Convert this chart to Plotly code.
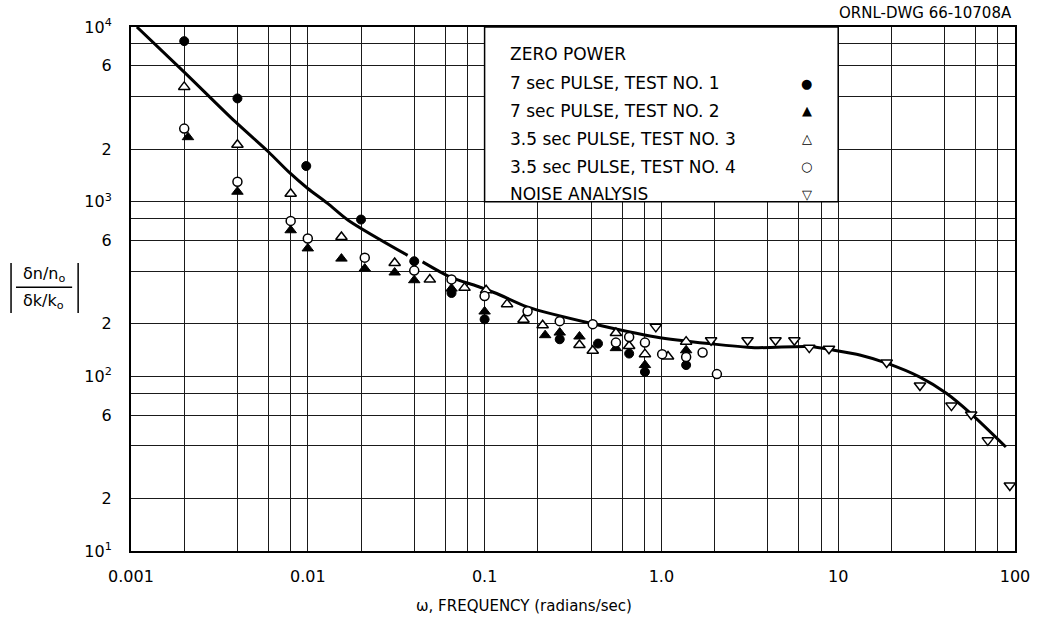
import plotly.graph_objects as go

# ---------------- data ----------------
curve_w = [0.00108, 0.002, 0.0039, 0.006, 0.0078, 0.01, 0.013, 0.017, 0.0367, None,
           0.0446, 0.064, 0.091, 0.117, 0.174, 0.409, 0.93, 1.85, 3.37, 6.9, 9.47,
           13.4, 18.8, 29, 40.9, 56.5, 88.8]
curve_g = [10000, 5520, 2860, 1925, 1480, 1190, 975, 781, 493, None,
           452, 370, 328, 298, 250, 200, 168, 154, 146, 148, 141,
           132, 119, 99, 80, 61, 39.4]

t1_w = [0.002, 0.004, 0.0098, 0.02, 0.04, 0.065, 0.1, 0.266, 0.438, 0.657, 0.807, 1.38]
t1_g = [8300, 3900, 1600, 790, 456, 300, 212, 163, 154, 135, 106, 116]

t2_w = [0.0021, 0.004, 0.008, 0.01, 0.0155, 0.021, 0.031, 0.04, 0.065, 0.1, 0.22,
        0.266, 0.344, 0.553, 0.807, 1.38]
t2_g = [2340, 1140, 686, 540, 472, 414, 393, 355, 318, 235, 172,
        178, 169, 145, 116, 141]

t3_w = [0.002, 0.004, 0.008, 0.0155, 0.031, 0.049, 0.077, 0.102, 0.134, 0.166, 0.213,
        0.344, 0.409, 0.553, 0.657, 0.807, 1.09, 1.38]
t3_g = [4540, 2120, 1110, 628, 446, 358, 321, 311, 259, 211, 196,
        151, 140, 177, 149, 134, 130, 158]

t4_w = [0.002, 0.004, 0.008, 0.01, 0.021, 0.04, 0.065, 0.1, 0.175, 0.266, 0.409,
        0.553, 0.657, 0.807, 1.01, 1.38, 1.71, 2.06]
t4_g = [2620, 1300, 776, 615, 478, 403, 359, 288, 236, 207, 199,
        156, 168, 156, 134, 129, 137, 103]

noise_w = [0.93, 1.91, 3.07, 4.42, 5.65, 6.86, 8.87, 18.8, 29, 43.7, 56.5, 70.2, 93.5]
noise_g = [192, 161, 161, 161, 161, 146, 144, 120, 88.7, 68, 60.5, 43, 23.7]

legend_title = "ZERO POWER"
series_names = ["7 sec PULSE, TEST NO. 1", "7 sec PULSE, TEST NO. 2",
                "3.5 sec PULSE, TEST NO. 3", "3.5 sec PULSE, TEST NO. 4",
                "NOISE ANALYSIS"]
series_glyphs = ["●", "▲", "△", "○", "▽"]

x_decades = [0.001, 0.01, 0.1, 1, 10, 100]
x_decade_labels = ["0.001", "0.01", "0.1", "1.0", "10", "100"]
y_decades = [10, 100, 1000, 10000]
y_decade_labels = ["10<sup>1</sup>", "10<sup>2</sup>", "10<sup>3</sup>", "10<sup>4</sup>"]
grid_mults = [2, 4, 6, 8]
y_labelled_mults = {2: "2", 6: "6"}

x_title = "ω, FREQUENCY (radians/sec)"
y_num = "δn/n<sub>o</sub>"
y_den = "δk/k<sub>o</sub>"
drawing_no = "ORNL-DWG 66-10708A"

# ---------------- ticks (labelled major ticks, unlabelled minor grid) ----------------
xtv, xtt, x_minor = list(x_decades), list(x_decade_labels), []
for d in x_decades[:-1]:
    for m in grid_mults:
        x_minor.append(d * m)

ytv, ytt, y_minor = [], [], []
for i, d in enumerate(y_decades):
    ytv.append(d)
    ytt.append(y_decade_labels[i])
    if i == len(y_decades) - 1:
        break
    for m in grid_mults:
        if m in y_labelled_mults:
            ytv.append(d * m)
            ytt.append(y_labelled_mults[m])
        else:
            y_minor.append(d * m)

FONT = "DejaVu Sans, Liberation Sans, sans-serif"

fig = go.Figure()
fig.add_trace(go.Scatter(x=curve_w, y=curve_g, mode="lines",
                         line=dict(color="black", width=3, shape="spline", smoothing=0.8),
                         connectgaps=False, showlegend=False, hoverinfo="skip"))

mk_line = dict(color="black", width=1.5)
fig.add_trace(go.Scatter(x=t1_w, y=t1_g, mode="markers", name=series_names[0],
                         marker=dict(symbol="circle", size=9, color="black",
                                     line=dict(color="black", width=1))))
fig.add_trace(go.Scatter(x=t2_w, y=t2_g, mode="markers", name=series_names[1],
                         marker=dict(symbol="triangle-up", size=10, color="black",
                                     line=dict(color="black", width=1))))
fig.add_trace(go.Scatter(x=t3_w, y=t3_g, mode="markers", name=series_names[2],
                         marker=dict(symbol="triangle-up", size=10, color="white", line=mk_line)))
fig.add_trace(go.Scatter(x=t4_w, y=t4_g, mode="markers", name=series_names[3],
                         marker=dict(symbol="circle", size=9, color="white", line=mk_line)))
fig.add_trace(go.Scatter(x=noise_w, y=noise_g, mode="markers", name=series_names[4],
                         marker=dict(symbol="triangle-down", size=10, color="white", line=mk_line)))

# ---------------- legend box drawn as in the original ----------------
fig.add_shape(type="rect", xref="paper", yref="paper", x0=0.4, x1=0.8, y0=2 / 3, y1=1,
              fillcolor="white", line=dict(color="black", width=1.5), layer="above")

rows_y = [0.9485, 0.8926, 0.8397, 0.7863, 0.7334, 0.6807]
fig.add_annotation(xref="paper", yref="paper", x=0.4268, y=rows_y[0], text=legend_title,
                   showarrow=False, xanchor="left", yanchor="middle",
                   font=dict(family=FONT, size=17, color="black"))
for name, glyph, yy in zip(series_names, series_glyphs, rows_y[1:]):
    fig.add_annotation(xref="paper", yref="paper", x=0.4268, y=yy, text=name,
                       showarrow=False, xanchor="left", yanchor="middle",
                       font=dict(family=FONT, size=17, color="black"))
    fig.add_annotation(xref="paper", yref="paper", x=0.7646, y=yy, text=glyph,
                       showarrow=False, xanchor="center", yanchor="middle",
                       font=dict(family=FONT, size=13, color="black"))

# ---------------- y label fraction with absolute bars ----------------
fig.add_annotation(xref="paper", yref="paper", x=-0.0987, y=0.528, text=y_num,
                   showarrow=False, xanchor="center", yanchor="middle",
                   font=dict(family=FONT, size=16, color="black"))
fig.add_annotation(xref="paper", yref="paper", x=-0.0987, y=0.477, text=y_den,
                   showarrow=False, xanchor="center", yanchor="middle",
                   font=dict(family=FONT, size=16, color="black"))
fig.add_shape(type="line", xref="paper", yref="paper", x0=-0.1301, x1=-0.0666,
              y0=0.5032, y1=0.5032, line=dict(color="black", width=1.5))
for bx in (-0.1357, -0.0598):
    fig.add_shape(type="line", xref="paper", yref="paper", x0=bx, x1=bx,
                  y0=0.4542, y1=0.5496, line=dict(color="black", width=1.5))

# ---------------- x title and drawing number ----------------
fig.add_annotation(xref="paper", yref="paper", x=0.445, y=-0.105, text=x_title,
                   showarrow=False, xanchor="center", yanchor="middle",
                   font=dict(family=FONT, size=15, color="black"))
fig.add_annotation(xref="paper", yref="paper", x=0.999, y=1.027, text=drawing_no,
                   showarrow=False, xanchor="right", yanchor="middle",
                   font=dict(family=FONT, size=15, color="black"))

GRID = "#1a1a1a"
axis_common = dict(showgrid=True, gridcolor=GRID, gridwidth=1, zeroline=False,
                   showline=True, linecolor="black", linewidth=2, mirror=True,
                   ticks="")

fig.update_xaxes(type="log", range=[-3, 2], tickvals=xtv, ticktext=xtt,
                 ticklabelstandoff=10, tickfont=dict(family=FONT, size=16, color="black"),
                 minor=dict(tickvals=x_minor, showgrid=True, gridcolor=GRID, gridwidth=1, ticks=""),
                 **axis_common)
fig.update_yaxes(type="log", range=[1, 4], tickvals=ytv, ticktext=ytt,
                 ticklabelstandoff=14, tickfont=dict(family=FONT, size=16, color="black"),
                 minor=dict(tickvals=y_minor, showgrid=True, gridcolor=GRID, gridwidth=1, ticks=""),
                 **axis_common)

fig.update_layout(width=1042, height=620, showlegend=False,
                  margin=dict(l=131, r=19, t=27, b=69),
                  paper_bgcolor="white", plot_bgcolor="white",
                  font=dict(family=FONT, color="black"))

fig.write_html("out.html",
               config={"displayModeBar": False, "staticPlot": True},
               post_script="document.body.style.margin='0px';"
                           "document.body.style.overflow='hidden';")
